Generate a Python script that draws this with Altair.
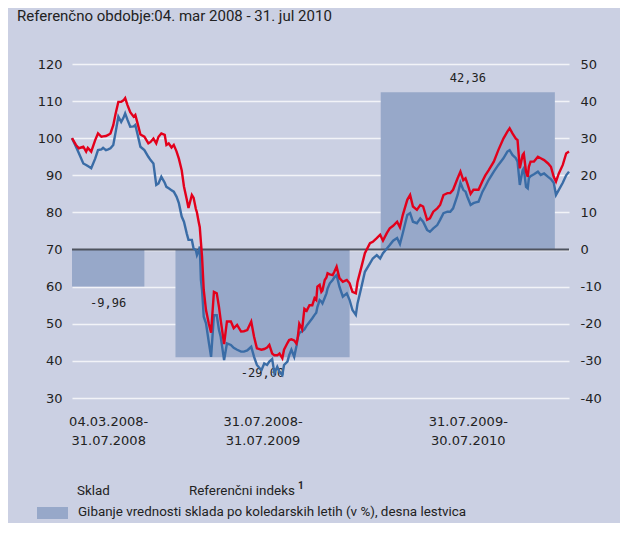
import json
import altair as alt
import pandas as pd

# ---------------- data ----------------
start_date = "2008-03-04"
series_names = ["Sklad", "Referenčni indeks"]

# days since 04.03.2008
days = [
    0, 7, 12, 20, 25, 28, 34, 41, 46, 52,
    55, 60, 64, 68, 73, 77, 82, 87, 91, 94,
    98, 103, 109, 112, 116, 121, 128, 135, 139, 144,
    149, 153, 158, 164, 167, 171, 176, 180, 185, 189,
    194, 198, 203, 206, 212, 215, 219, 221, 224, 226,
    228, 230, 233, 237, 242, 246, 251, 256, 260, 263,
    269, 274, 281, 286, 292, 299, 304, 310, 317, 322,
    327, 335, 340, 345, 349, 354, 358, 363, 367, 372,
    375, 381, 384, 388, 393, 397, 399, 402, 407, 411,
    415, 420, 425, 429, 432, 434, 438, 441, 443, 447,
    450, 452, 456, 461, 464, 468, 473, 479, 486, 491,
    496, 502, 505, 512, 518, 527, 532, 539, 545, 550,
    557, 562, 568, 575, 580, 585, 593, 598, 603, 610,
    616, 621, 628, 633, 639, 646, 651, 657, 664, 669,
    674, 682, 687, 692, 696, 699, 705, 710, 714, 719,
    726, 731, 737, 746, 754, 763, 770, 774, 779, 785,
    788, 792, 797, 799, 803, 806, 808, 811, 817, 824,
    829, 835, 842, 847, 852, 856, 861, 868, 874, 879,
]

# Sklad (blue)
fund = [
    100, 97.7, 96.0, 93.2, 92.8, 92.5, 91.9, 94.5, 96.8, 97.0,
    97.4, 96.8, 97.0, 97.3, 98.2, 101.5, 105.8, 104.4, 105.5, 106.7,
    105.0, 103.1, 103.2, 103.6, 101.0, 97.7, 96.8, 95.0, 94.1, 93.2,
    87.4, 87.8, 89.6, 88.0, 86.9, 86.5, 86.0, 85.6, 84.2, 82.5,
    78.9, 77.5, 74.3, 72.6, 72.6, 70.3, 69.9, 68.5, 69.5, 70.8,
    61.8, 59.1, 51.9, 50.1, 45.0, 41.1, 52.3, 52.3, 48.3, 46.5,
    40.2, 44.7, 44.3, 43.5, 43.0, 42.5, 42.5, 42.8, 43.8, 41.1,
    38.9, 37.5, 39.3, 38.9, 39.8, 40.5, 36.7, 38.4, 37.0, 36.2,
    38.9, 39.8, 41.5, 43.0, 41.1, 44.0, 46.1, 47.5, 48.0, 48.5,
    49.5, 50.5, 51.5, 52.4, 53.0, 54.5, 56.4, 56.0, 55.5, 57.0,
    58.2, 59.5, 60.9, 61.8, 62.5, 63.1, 60.0, 57.3, 58.2, 56.4,
    53.7, 52.4, 55.5, 60.0, 64.0, 66.3, 67.6, 68.5, 67.6, 69.0,
    70.3, 71.2, 72.4, 73.1, 71.5, 74.4, 79.3, 79.8, 77.5, 77.1,
    78.4, 77.5, 75.3, 74.8, 75.7, 76.6, 78.0, 79.8, 80.2, 80.2,
    81.1, 84.7, 88.0, 86.1, 85.6, 84.3, 82.0, 82.5, 82.7, 82.9,
    85.6, 87.0, 88.8, 91.0, 92.8, 94.6, 96.4, 96.8, 95.5, 94.6,
    93.7, 87.4, 91.4, 91.9, 86.9, 86.5, 89.2, 89.8, 90.3, 91.0,
    90.1, 90.5, 89.6, 89.0, 88.0, 84.7, 86.1, 88.0, 90.0, 91.0,
]

# Referenčni indeks (red)
benchmark = [
    100, 98.2, 97.3, 97.7, 96.4, 97.4, 96.4, 99.5, 101.3, 100.4,
    100.5, 100.6, 100.9, 101.3, 103.5, 106.5, 109.8, 109.8, 110.2, 110.8,
    109.0, 107.0, 105.8, 106.3, 104.0, 101.0, 100.4, 98.6, 99.0, 99.9,
    98.6, 100.4, 101.3, 100.9, 98.2, 98.6, 97.5, 98.2, 96.4, 94.5,
    91.4, 87.0, 83.5, 81.2, 84.7, 84.0, 81.0, 80.0, 77.5, 76.0,
    72.0, 68.1, 59.1, 53.7, 50.0, 47.6, 58.6, 58.2, 54.5, 51.0,
    44.5, 50.6, 50.6, 48.8, 49.7, 47.9, 48.0, 48.3, 50.6, 46.5,
    43.4, 43.0, 43.2, 43.6, 44.3, 42.0, 41.5, 41.5, 42.0, 40.7,
    43.0, 44.8, 45.6, 45.8, 45.5, 44.7, 46.0, 50.0, 48.5, 54.0,
    53.5, 55.0, 55.0, 56.9, 56.4, 60.0, 60.5, 58.6, 59.0, 61.8,
    62.5, 63.6, 63.3, 63.1, 64.0, 65.4, 62.3, 61.3, 61.8, 60.9,
    58.6, 58.2, 61.3, 65.4, 69.0, 71.7, 72.1, 73.1, 74.0, 72.4,
    74.5, 75.7, 76.4, 77.5, 76.0, 79.3, 83.4, 84.7, 81.6, 80.7,
    82.0, 81.6, 78.0, 78.4, 80.2, 81.1, 82.0, 84.7, 85.2, 85.2,
    86.1, 89.2, 91.0, 88.7, 89.2, 87.9, 85.0, 86.1, 86.1, 86.1,
    88.5, 90.0, 91.4, 93.7, 96.8, 99.9, 101.8, 102.7, 101.3, 99.9,
    99.5, 91.9, 95.5, 95.9, 91.0, 89.6, 92.3, 93.7, 93.7, 95.0,
    94.6, 94.1, 93.2, 92.3, 89.6, 88.3, 90.5, 92.8, 95.9, 96.4,
]

# yearly performance bars (right scale, %)
bar_from = ["2008-03-04", "2008-09-03", "2009-09-01"]
bar_to = ["2008-07-10", "2009-07-08", "2010-07-06"]
bar_values = [-9.96, -29.00, 42.36]
period_labels = [
    ["04.03.2008-", "31.07.2008"],
    ["31.07.2008-", "31.07.2009"],
    ["31.07.2009-", "30.07.2010"],
]

title_text = "Referenčno obdobje:04. mar 2008 - 31. jul 2010"
bar_legend_text = "Gibanje vrednosti sklada po koledarskih letih (v %), desna lestvica"

# ---------------- styles ----------------
BG = "#CBD0E3"
BAR = "#97A8C9"
RED = "#E3001B"
BLUE = "#3A6CA6"
TXT = "#222222"
AXFONT = "DejaVu Sans"
LEGFONT = "Roboto"

# ---------------- frames ----------------
t0 = pd.Timestamp(start_date)
d0 = [(pd.Timestamp(s) - t0).days for s in bar_from]
d1 = [(pd.Timestamp(s) - t0).days for s in bar_to]
mids = [int(round((a + b) / 2)) for a, b in zip(d0, d1)]
bars_df = pd.DataFrame({
    "d0": d0, "d1": d1, "mid": mids, "value": bar_values,
    "label": [f"{v:.2f}".replace(".", ",") for v in bar_values],
})
fund_df = pd.DataFrame({"day": days, "value": fund})
bench_df = pd.DataFrame({"day": days, "value": benchmark})
one = pd.DataFrame({"a": [0]})

expr = ""
for m, lab in zip(mids, period_labels):
    expr += f"datum.value == {m} ? {json.dumps(lab, ensure_ascii=False)} : "
expr += "''"

x_scale = alt.Scale(domain=[0, days[-1]], nice=False, zero=False)
x_axis = alt.Axis(values=mids, labelExpr=expr, title=None, ticks=False, domain=False,
                  grid=False, labelPadding=17, labelFontSize=13, labelLineHeight=19,
                  labelColor=TXT, labelFont=AXFONT, labelAngle=0, labelOverlap=False,
                  labelFlush=False)

def X(field):
    return alt.X(field, scale=x_scale, axis=x_axis)

right_scale = alt.Scale(domain=[-40, 50], nice=False, zero=False)
right_axis = alt.Axis(orient="right", values=list(range(-40, 51, 10)), grid=False,
                      ticks=False, domain=False, labelPadding=11, title=None,
                      labelFontSize=13, labelColor=TXT, labelFont=AXFONT,
                      labelExpr="replace(datum.label, '\u2212', '-')")
left_scale = alt.Scale(domain=[30, 120], nice=False, zero=False)
left_axis = alt.Axis(orient="left", values=list(range(30, 121, 10)), grid=True,
                     gridColor="#F2F3F8", gridWidth=1.5, ticks=False, domain=False,
                     labelPadding=10, title=None, labelFontSize=13, labelColor=TXT,
                     labelFont=AXFONT)

bars = alt.Chart(bars_df).mark_rect(color=BAR).encode(
    x=X("d0:Q"), x2="d1",
    y=alt.Y("value:Q", scale=right_scale, axis=right_axis),
    y2=alt.datum(0),
)
lab_neg = alt.Chart(bars_df).transform_filter("datum.value < 0").mark_text(
    font="DejaVu Sans Mono", fontSize=12, color=TXT, dy=16, baseline="middle"
).encode(x=X("mid:Q"), y=alt.Y("value:Q", scale=right_scale, axis=right_axis), text="label:N")
lab_pos = alt.Chart(bars_df).transform_filter("datum.value > 0").mark_text(
    font="DejaVu Sans Mono", fontSize=12, color=TXT, dy=-14, baseline="middle"
).encode(x=X("mid:Q"), y=alt.Y("value:Q", scale=right_scale, axis=right_axis), text="label:N")

def txt(text, x, y, size=13.4, weight="normal", font=LEGFONT):
    return alt.Chart(one).mark_text(text=text, align="left", baseline="middle",
                                    fontSize=size, fontWeight=weight, font=font,
                                    color=TXT).encode(x=alt.value(x), y=alt.value(y))

swatch = alt.Chart(one).mark_rect(color=BAR).encode(
    x=alt.value(-35), x2=alt.value(-4), y=alt.value(443), y2=alt.value(455))

right_layer = alt.layer(
    bars, lab_neg, lab_pos,
    txt(title_text, -55, -48, size=15),
    txt(series_names[0], 5, 427),
    txt(series_names[1], 117, 427),
    txt("1", 226, 422, size=10, weight="bold"),
    swatch,
    txt(bar_legend_text, 6, 448),
)

zero_rule = alt.Chart(one).mark_rule(color="#4E535F", strokeWidth=2).encode(
    y=alt.YDatum(70, scale=left_scale, axis=left_axis))
blue_line = alt.Chart(fund_df).mark_line(color=BLUE, strokeWidth=2.4).encode(
    x=X("day:Q"), y=alt.Y("value:Q", scale=left_scale, axis=left_axis))
red_line = alt.Chart(bench_df).mark_line(color=RED, strokeWidth=2.4).encode(
    x=X("day:Q"), y=alt.Y("value:Q", scale=left_scale, axis=left_axis))

left_layer = alt.layer(zero_rule, blue_line, red_line)

chart = alt.layer(right_layer, left_layer).resolve_scale(y="independent").properties(
    width=497, height=334,
    autosize=alt.AutoSizeParams(type="none"),
    padding={"left": 64, "top": 56, "right": 51, "bottom": 125},
    background=BG,
).configure_view(strokeWidth=0)

chart.save("out.html", embed_options={"renderer": "svg", "actions": False})
